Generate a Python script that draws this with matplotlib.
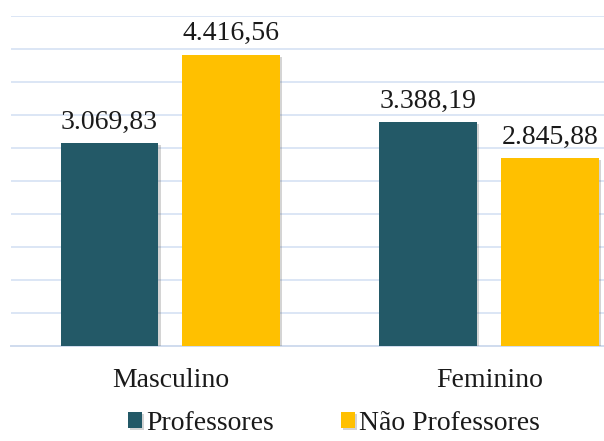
import matplotlib
matplotlib.use("Agg")
import matplotlib.pyplot as plt
import matplotlib.patheffects as pe
import numpy as np

categorias = ["Masculino", "Feminino"]
professores = [3069.83, 3388.19]
nao_professores = [4416.56, 2845.88]
series = ["Professores", "Não Professores"]
cores = ["#235967", "#FFC000"]


def fmt_br(v):
    s = f"{v:,.2f}"
    return s.replace(",", "X").replace(".", ",").replace("X", ".")


plt.rcParams["font.family"] = "serif"
plt.rcParams["font.serif"] = ["Liberation Serif", "Times New Roman", "DejaVu Serif"]

fig = plt.figure(figsize=(6.04, 4.41), dpi=100)
ax = fig.add_axes([11 / 604, 1 - 346 / 441, 1 - 11 / 604, (346 - 16) / 441])

x = np.arange(len(categorias))
larg = 0.307
desl = 0.191
sombra = [pe.SimplePatchShadow(offset=(1.5, -1.5), alpha=0.25, shadow_rgbFace="#555555"), pe.Normal()]

b1 = ax.bar(x - desl, professores, larg, color=cores[0], label=series[0], zorder=3)
b2 = ax.bar(x + desl, nao_professores, larg, color=cores[1], label=series[1], zorder=3)
for b in list(b1) + list(b2):
    b.set_path_effects(sombra)

for barras, vals in ((b1, professores), (b2, nao_professores)):
    ax.bar_label(barras, labels=[fmt_br(v) for v in vals], padding=6,
                 fontsize=20, color="#1a1a1a", zorder=4)

ax.set_xlim(-0.5, 1.36)
ax.set_ylim(0, 5000)
ax.set_yticks(np.arange(0, 5001, 500))
ax.yaxis.grid(True, color="#D6E2F3", linewidth=1.2, zorder=0)
ax.set_axisbelow(True)
ax.tick_params(axis="y", left=False, labelleft=False)
ax.tick_params(axis="x", bottom=False, pad=12, labelsize=20, labelcolor="#1a1a1a")
ax.set_xticks(x)
ax.set_xticklabels(categorias)
for lado in ("top", "right", "left"):
    ax.spines[lado].set_visible(False)
ax.spines["bottom"].set_color("#D0DCEE")
ax.spines["bottom"].set_linewidth(1.4)

fig.legend(handles=[b1, b2], labels=series, loc="lower center", ncol=2,
           bbox_to_anchor=(0.553, -0.045), frameon=False, fontsize=20,
           handlelength=0.5, handleheight=0.5, handletextpad=0.15,
           columnspacing=2.4, labelcolor="#1a1a1a")

fig.savefig("out.png", dpi=100)
plt.close(fig)
